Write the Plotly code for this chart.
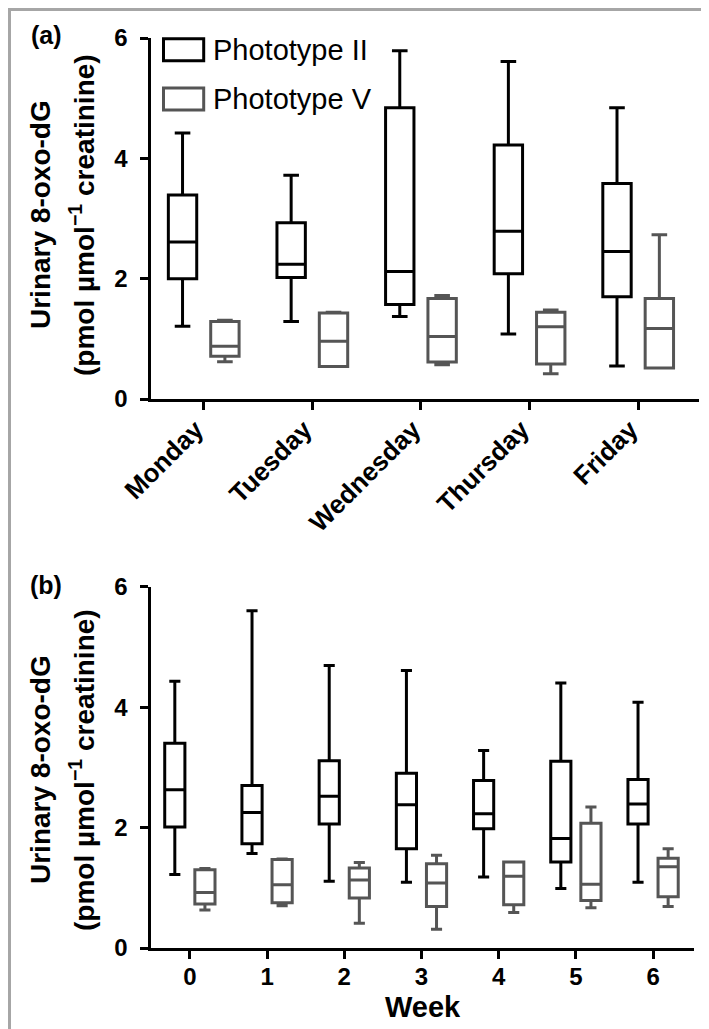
import plotly.graph_objects as go

W, H = 709, 1029

# ---------------- data ----------------
days = ["Monday", "Tuesday", "Wednesday", "Thursday", "Friday"]
a_II_low = [1.21, 1.29, 1.37, 1.08, 0.55]
a_II_q1 = [2.00, 2.02, 1.57, 2.08, 1.70]
a_II_med = [2.61, 2.24, 2.12, 2.79, 2.45]
a_II_q3 = [3.39, 2.93, 4.84, 4.22, 3.58]
a_II_high = [4.42, 3.72, 5.79, 5.61, 4.84]

a_V_low = [0.62, 0.54, 0.57, 0.42, 0.515]
a_V_q1 = [0.71, 0.54, 0.615, 0.58, 0.515]
a_V_med = [0.875, 0.96, 1.04, 1.20, 1.17]
a_V_q3 = [1.29, 1.43, 1.67, 1.44, 1.67]
a_V_high = [1.31, 1.44, 1.72, 1.48, 2.73]

weeks = ["0", "1", "2", "3", "4", "5", "6"]
b_II_low = [1.22, 1.57, 1.11, 1.09, 1.18, 0.99, 1.09]
b_II_q1 = [2.01, 1.73, 2.06, 1.65, 1.98, 1.43, 2.06]
b_II_med = [2.63, 2.25, 2.52, 2.38, 2.23, 1.82, 2.39]
b_II_q3 = [3.40, 2.70, 3.11, 2.90, 2.78, 3.10, 2.80]
b_II_high = [4.43, 5.60, 4.69, 4.61, 3.28, 4.40, 4.08]

b_V_low = [0.63, 0.70, 0.41, 0.31, 0.59, 0.67, 0.69]
b_V_q1 = [0.73, 0.75, 0.83, 0.69, 0.72, 0.79, 0.85]
b_V_med = [0.92, 1.05, 1.13, 1.08, 1.19, 1.06, 1.35]
b_V_q3 = [1.30, 1.47, 1.33, 1.40, 1.43, 2.07, 1.49]
b_V_high = [1.32, 1.48, 1.42, 1.54, 1.43, 2.34, 1.65]

y_ticks = [0, 2, 4, 6]
series_names = ["Phototype II", "Phototype V"]

# ---------------- style ----------------
FONT = "Liberation Sans, Arial, sans-serif"
BLACK = "#000000"
GREY = "#555555"


def px(x):
    return x / W


def py(y):
    return 1 - y / H


fig = go.Figure()


def add_box(x, low, q1, med, q3, high, color, name, xa, ya):
    fig.add_trace(go.Box(
        x=x, lowerfence=low, q1=q1, median=med, q3=q3, upperfence=high,
        name=name, offsetgroup=name, xaxis=xa, yaxis=ya,
        line=dict(color=color, width=3), fillcolor="rgba(0,0,0,0)",
        whiskerwidth=0.55, showlegend=False, hoverinfo="skip",
        boxpoints=False,
    ))


add_box(days, a_II_low, a_II_q1, a_II_med, a_II_q3, a_II_high, BLACK, series_names[0], "x", "y")
add_box(days, a_V_low, a_V_q1, a_V_med, a_V_q3, a_V_high, GREY, series_names[1], "x", "y")
add_box(weeks, b_II_low, b_II_q1, b_II_med, b_II_q3, b_II_high, BLACK, series_names[0], "x2", "y2")
add_box(weeks, b_V_low, b_V_q1, b_V_med, b_V_q3, b_V_high, GREY, series_names[1], "x2", "y2")

axis_common = dict(
    showline=True, linecolor="black", linewidth=3, mirror=False,
    ticks="outside", ticklen=8, tickwidth=3, tickcolor="black",
    showgrid=False, zeroline=False, automargin=False,
)

fig.update_layout(
    width=W, height=H,
    margin=dict(l=0, r=0, t=0, b=0),
    paper_bgcolor="white", plot_bgcolor="white",
    boxmode="group", boxgap=0.22, boxgroupgap=0.33,
    font=dict(family=FONT, color="black"),
    showlegend=False,
    xaxis=dict(
        domain=[px(142.5), px(691)], anchor="y", type="category",
        categoryorder="array", categoryarray=days,
        range=[-0.49, 4.56], tickangle=-45,
        ticklabelshift=-8, ticklabelstandoff=-6,
        tickfont=dict(family=FONT, size=26, weight="bold", color="black"),
        **axis_common,
    ),
    yaxis=dict(
        domain=[py(391), py(30)], anchor="x", range=[0, 6],
        tickvals=y_ticks, ticktext=[str(v) for v in y_ticks],
        ticklabelstandoff=7,
        tickfont=dict(family=FONT, size=24, weight="bold", color="black"),
        **axis_common,
    ),
    xaxis2=dict(
        domain=[px(142.5), px(686)], anchor="y2", type="category",
        categoryorder="array", categoryarray=weeks,
        range=[-0.51, 6.53], ticklabelstandoff=-3,
        tickfont=dict(family=FONT, size=24, weight="bold", color="black"),
        **axis_common,
    ),
    yaxis2=dict(
        domain=[py(940), py(578.7)], anchor="x2", range=[0, 6],
        tickvals=y_ticks, ticktext=[str(v) for v in y_ticks],
        ticklabelstandoff=7,
        tickfont=dict(family=FONT, size=24, weight="bold", color="black"),
        **axis_common,
    ),
)

annos = []
bold = dict(family=FONT, size=28, weight="bold", color="black")


def title_pair(yc):
    annos.append(dict(text="Urinary 8-oxo-dG", x=px(32), y=py(yc), xref="paper", yref="paper",
                      textangle=-90, showarrow=False, xanchor="center", yanchor="middle", font=bold))
    annos.append(dict(text="(pmol µmol<sup>−1</sup> creatinine)", x=px(74), y=py(yc),
                      xref="paper", yref="paper", textangle=-90, showarrow=False,
                      xanchor="center", yanchor="middle", font=bold))


title_pair(207)
title_pair(762)

annos.append(dict(text="(a)", x=px(38), y=py(27), xref="paper", yref="paper", showarrow=False,
                  xanchor="center", yanchor="middle", font=dict(family=FONT, size=25, weight="bold")))
annos.append(dict(text="(b)", x=px(38), y=py(577), xref="paper", yref="paper", showarrow=False,
                  xanchor="center", yanchor="middle", font=dict(family=FONT, size=25, weight="bold")))
annos.append(dict(text="Week", x=px(415), y=py(999), xref="paper", yref="paper", showarrow=False,
                  xanchor="center", yanchor="middle",
                  font=dict(family=FONT, size=29, weight="bold", color="black")))

# legend (custom)
leg = [(series_names[0], BLACK, 41.7), (series_names[1], GREY, 91)]
shapes = []
for name, col, yc in leg:
    shapes.append(dict(type="rect", xref="paper", yref="paper",
                       x0=px(155.5), x1=px(195.7), y0=py(yc + 11), y1=py(yc - 11),
                       line=dict(color=col, width=3), fillcolor="rgba(0,0,0,0)"))
    annos.append(dict(text=name, x=px(203), y=py(yc), xref="paper", yref="paper", showarrow=False,
                      xanchor="left", yanchor="middle",
                      font=dict(family=FONT, size=29, color="black")))

# frame
shapes.append(dict(type="rect", xref="paper", yref="paper",
                   x0=px(1.5), x1=px(702), y0=py(1026), y1=py(1.5),
                   line=dict(color="#a6a6a6", width=3), fillcolor="rgba(0,0,0,0)", layer="below"))

fig.update_layout(annotations=annos, shapes=shapes)

fig.write_html("out.html")
